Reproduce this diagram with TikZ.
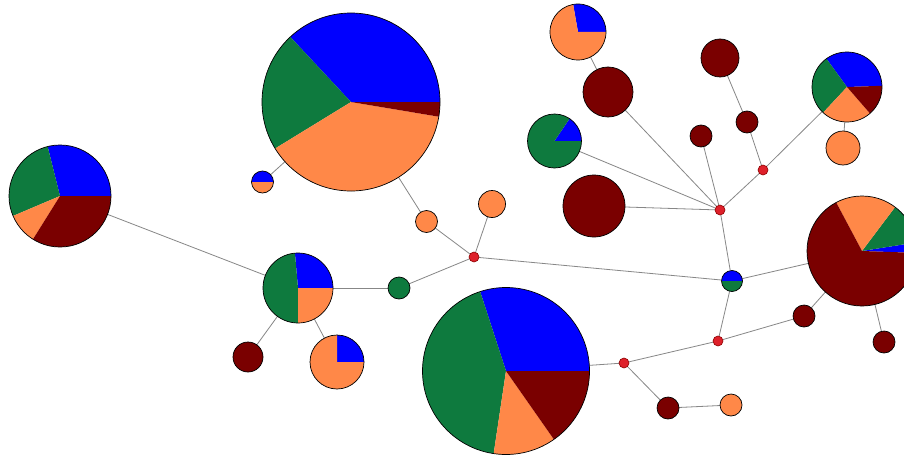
\documentclass[tikz,border=0pt]{standalone}
\definecolor{blueC}{RGB}{0,0,255}
\definecolor{greenC}{RGB}{14,122,62}
\definecolor{orangeC}{RGB}{255,136,72}
\definecolor{dredC}{RGB}{122,0,0}
\definecolor{medC}{RGB}{222,32,42}
\definecolor{medD}{RGB}{140,0,0}
\definecolor{linkC}{RGB}{135,135,135}
\pgfdeclarelayer{paper}
\pgfdeclarelayer{edgelayer}
\pgfsetlayers{paper,edgelayer,main}
\newcommand\pieslice[5]{\fill[#5] (#1.center) -- ++(#3:#2) arc[start angle=#3, end angle=#4, radius=#2] -- cycle;}
\newcommand\pieoutline[2]{\draw[black, line width=0.7pt] (#1.center) circle[radius=#2];}
\begin{document}
\begin{tikzpicture}[x=1pt,y=1pt,
  hap/.style={circle, inner sep=0pt, outer sep=0pt, draw=black, line width=0.7pt},
  pienode/.style={circle, inner sep=0pt, outer sep=0pt},
  med/.style={circle, inner sep=0pt, outer sep=0pt, minimum size=10pt, fill=medC, draw=medD, line width=0.6pt},
  link/.style={draw=linkC, line width=0.8pt}]
\clip (0,0) rectangle (904,459);
\begin{pgfonlayer}{paper}
\fill[white] (0,0) rectangle (904,459);
\end{pgfonlayer}

% pie nodes
\node[pienode, minimum size=102pt] (L1) at (60,263) {};
\node[pienode, minimum size=22pt] (Tn) at (262.5,277) {};
\node[pienode, minimum size=178pt] (T) at (351,357) {};
\node[pienode, minimum size=70pt] (P) at (298,171) {};
\node[pienode, minimum size=54pt] (Q) at (337,97) {};
\node[pienode, minimum size=167pt] (B) at (506,88) {};
\node[pienode, minimum size=21pt] (S) at (732,178) {};
\node[pienode, minimum size=110pt] (R) at (862,208) {};
\node[pienode, minimum size=70pt] (U) at (847,372) {};
\node[pienode, minimum size=56pt] (O4) at (578,427) {};
\node[pienode, minimum size=54pt] (G2) at (554.5,318) {};

% single-colour haplotypes
\node[hap, fill=orangeC, minimum size=22pt] (O1) at (426.5,237.5) {};
\node[hap, fill=orangeC, minimum size=27pt] (O2) at (492,255) {};
\node[hap, fill=greenC, minimum size=22pt] (G1) at (399,171) {};
\node[hap, fill=dredC, minimum size=30pt] (D1) at (248,102) {};
\node[hap, fill=dredC, minimum size=22pt] (D2) at (668,51) {};
\node[hap, fill=orangeC, minimum size=22pt] (O3) at (731,54) {};
\node[hap, fill=dredC, minimum size=22pt] (D3) at (804,143) {};
\node[hap, fill=dredC, minimum size=22pt] (D4) at (884,117) {};
\node[hap, fill=dredC, minimum size=62pt] (D5) at (594,253) {};
\node[hap, fill=dredC, minimum size=50pt] (D6) at (608,367) {};
\node[hap, fill=dredC, minimum size=22pt] (D7) at (701,323) {};
\node[hap, fill=dredC, minimum size=22pt] (D8) at (747,337) {};
\node[hap, fill=dredC, minimum size=38pt] (D9) at (720,401) {};
\node[hap, fill=orangeC, minimum size=34pt] (O5) at (843,311) {};

% median vectors
\node[med] (M1) at (474,202) {};
\node[med] (M2) at (624,96) {};
\node[med] (M3) at (718,118) {};
\node[med] (M4) at (720,249) {};
\node[med] (M5) at (763,289) {};

% connectors
\begin{pgfonlayer}{edgelayer}
\draw[link] (L1) -- (P);
\draw[link] (P) -- (G1);
\draw[link] (G1) -- (M1);
\draw[link] (P) -- (D1);
\draw[link] (P) -- (Q);
\draw[link] (T) -- (Tn);
\draw[link] (T) -- (O1);
\draw[link] (O1) -- (M1);
\draw[link] (O2) -- (M1);
\draw[link] (M1) -- (S);
\draw[link] (S) -- (M4);
\draw[link] (S) -- (R);
\draw[link] (S) -- (M3);
\draw[link] (M3) -- (M2);
\draw[link] (M2) -- (B);
\draw[link] (M2) -- (D2);
\draw[link] (D2) -- (O3);
\draw[link] (M3) -- (D3);
\draw[link] (D3) -- (R);
\draw[link] (R) -- (D4);
\draw[link] (M4) -- (D5);
\draw[link] (M4) -- (G2);
\draw[link] (M4) -- (D6);
\draw[link] (D6) -- (O4);
\draw[link] (M4) -- (D7);
\draw[link] (M4) -- (M5);
\draw[link] (M5) -- (D8);
\draw[link] (D8) -- (D9);
\draw[link] (M5) -- (U);
\draw[link] (U) -- (O5);
\end{pgfonlayer}

% pie slices
\pieslice{L1}{51pt}{0}{104}{blueC}
\pieslice{L1}{51pt}{104}{203}{greenC}
\pieslice{L1}{51pt}{203}{238}{orangeC}
\pieslice{L1}{51pt}{238}{360}{dredC}
\pieoutline{L1}{51pt}

\pieslice{Tn}{11pt}{0}{180}{blueC}
\pieslice{Tn}{11pt}{180}{360}{orangeC}
\pieoutline{Tn}{11pt}

\pieslice{T}{89pt}{0}{133}{blueC}
\pieslice{T}{89pt}{133}{211.5}{greenC}
\pieslice{T}{89pt}{211.5}{350.5}{orangeC}
\pieslice{T}{89pt}{350.5}{360}{dredC}
\pieoutline{T}{89pt}

\pieslice{P}{35pt}{0}{95}{blueC}
\pieslice{P}{35pt}{95}{270}{greenC}
\pieslice{P}{35pt}{270}{360}{orangeC}
\pieoutline{P}{35pt}

\pieslice{Q}{27pt}{0}{90}{blueC}
\pieslice{Q}{27pt}{90}{360}{orangeC}
\pieoutline{Q}{27pt}

\pieslice{B}{83.5pt}{0}{108}{blueC}
\pieslice{B}{83.5pt}{108}{261.5}{greenC}
\pieslice{B}{83.5pt}{261.5}{305}{orangeC}
\pieslice{B}{83.5pt}{305}{360}{dredC}
\pieoutline{B}{83.5pt}

\pieslice{S}{10.5pt}{0}{180}{blueC}
\pieslice{S}{10.5pt}{180}{360}{greenC}
\pieoutline{S}{10.5pt}

\pieslice{R}{55pt}{-2}{9}{blueC}
\pieslice{R}{55pt}{9}{53}{greenC}
\pieslice{R}{55pt}{53}{118}{orangeC}
\pieslice{R}{55pt}{118}{358}{dredC}
\pieoutline{R}{55pt}

\pieslice{U}{35pt}{2}{126}{blueC}
\pieslice{U}{35pt}{126}{227}{greenC}
\pieslice{U}{35pt}{227}{311}{orangeC}
\pieslice{U}{35pt}{311}{362}{dredC}
\pieoutline{U}{35pt}

\pieslice{O4}{28pt}{0}{100}{blueC}
\pieslice{O4}{28pt}{100}{360}{orangeC}
\pieoutline{O4}{28pt}

\pieslice{G2}{27pt}{0}{56}{blueC}
\pieslice{G2}{27pt}{56}{360}{greenC}
\pieoutline{G2}{27pt}
\end{tikzpicture}
\end{document}
